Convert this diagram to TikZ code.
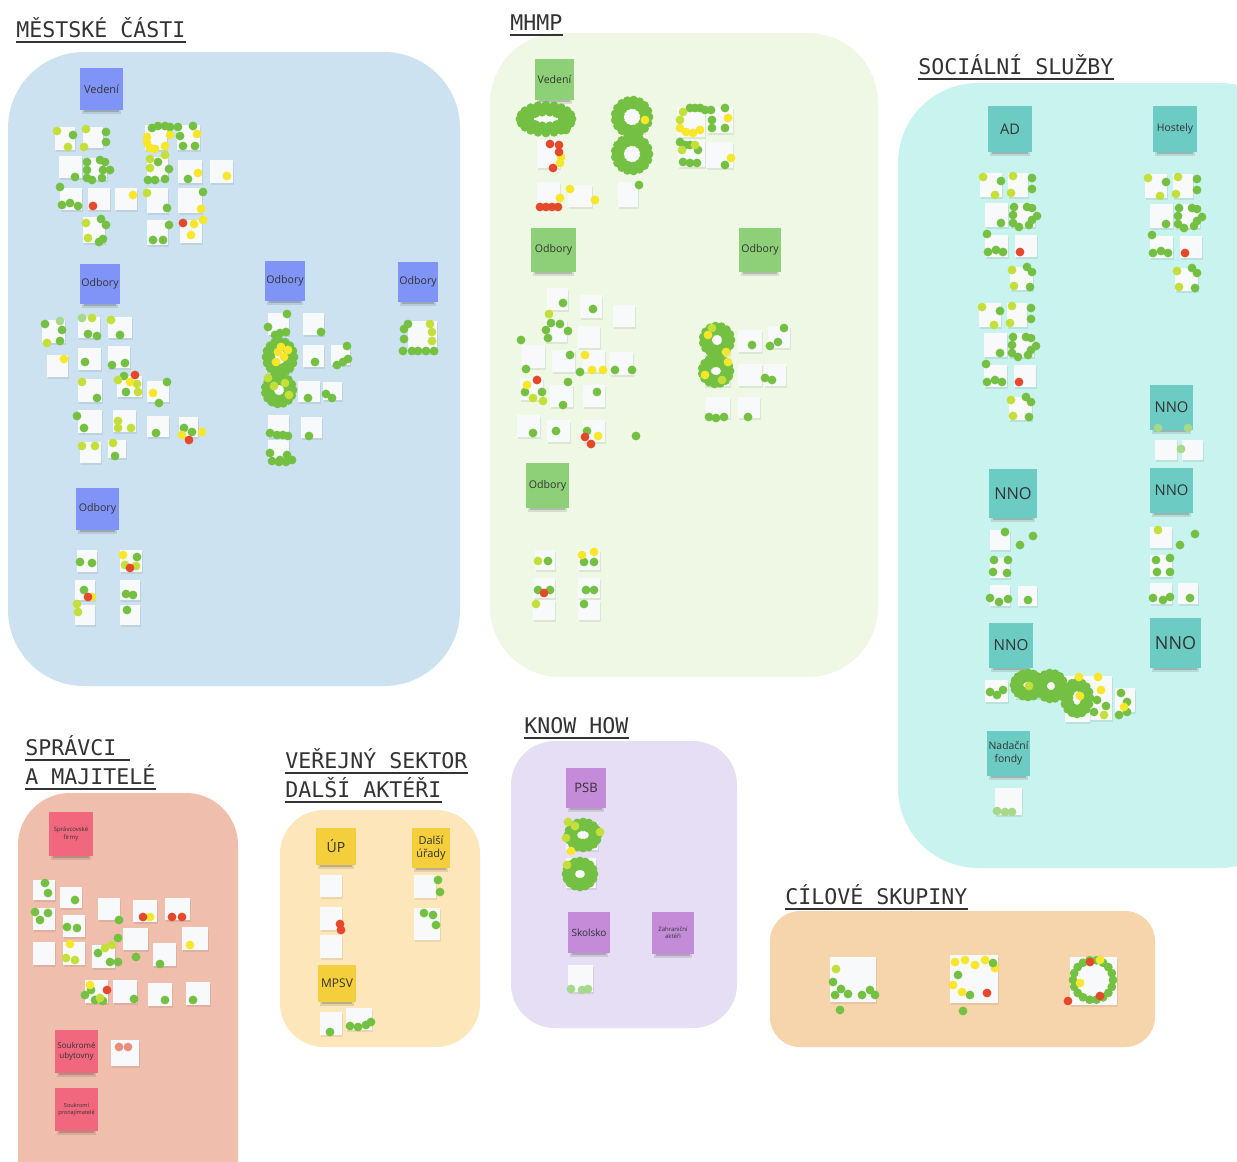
\documentclass[tikz,border=0pt]{standalone}
\usepackage{fontspec}
\setmainfont{Open Sans}
\newfontfamily\titlefont{DejaVu Sans Mono}
\usetikzlibrary{calc}

% board areas
\definecolor{bgblue}{HTML}{CCE2F0}
\definecolor{bggreen}{HTML}{EEF8E4}
\definecolor{bgcyan}{HTML}{C9F3EE}
\definecolor{bgsalmon}{HTML}{F0BEAC}
\definecolor{bgyellow}{HTML}{FDE7BA}
\definecolor{bglav}{HTML}{E6DEF4}
\definecolor{bgpeach}{HTML}{F6D4AC}
% sticky notes
\definecolor{nblue}{HTML}{8094F7}
\definecolor{ngreen}{HTML}{8ED077}
\definecolor{nteal}{HTML}{6CCBC3}
\definecolor{npink}{HTML}{F0677E}
\definecolor{nyellow}{HTML}{F4CE3B}
\definecolor{npurple}{HTML}{C48BD8}
\definecolor{paper}{HTML}{F8F9FA}
% voting dots
\definecolor{dg}{HTML}{74C043}
\definecolor{dl}{HTML}{C5DF3A}
\definecolor{dy}{HTML}{F8E62A}
\definecolor{dr}{HTML}{E5482B}
\definecolor{dpg}{HTML}{A6D98A}
\definecolor{dpr}{HTML}{E9907C}

\tikzset{
  heading/.style={anchor=base west, inner sep=0pt, text=black!80,
    font=\titlefont\fontsize{10.8}{13}\selectfont},
  stick/.style={inner sep=0pt, align=center, text=black!80},
}

% coloured sticky note with its shadow
\newcommand\sticky[8]{%
  \fill[black,opacity=.10] (#2+2,#5-4) rectangle (#4-2,#5+4);
  \fill[black,opacity=.16] (#2+4,#5-2) rectangle (#4-4,#5+2);
  \node[stick, fill=#6, minimum width={(#4-#2)*0.5pt}, minimum height={(#5-#3)*0.5pt}, font=#7]
    (#1) at ({(#2+#4)/2},{(#3+#5)/2}) {#8};}
% white paper notes: x1/y1/x2/y2
\newcommand\papers[1]{\foreach \xa/\ya/\xb/\yb in {#1}{%
  \fill[black,opacity=.07] (\xa+1,\ya+2) rectangle (\xb+1,\yb+2);
  \fill[paper] (\xa,\ya) rectangle (\xb,\yb);}}
% voting dots
\newcommand\pin[2]{\foreach \px/\py in {#2}{\fill[#1] (\px,\py) circle (2.2pt);}}
% ring of dots: cx, cy, rx, ry, count, colour
\newcommand\ring[6]{%
  \pgfmathtruncatemacro\ringn{#5}%
  \foreach \k in {1,...,\ringn}{%
  \fill[#6] ({#1+(#3)*cos(360*\k/\ringn)},{#2+(#4)*sin(360*\k/\ringn)}) circle (2.2pt);}}
% thick ring of dots (two layers)
\newcommand\blob[5]{\ring{#1}{#2}{#3}{#4}{#5}{dg}%
  \ring{#1}{#2}{#3+5}{#4+5}{#5+4}{dg}}
% heading with underline
\newcommand\headline[4]{%
  \node[heading] (#1) at (#2,#3) {#4};
  \draw[black!80, line width=0.9pt] ([yshift=-2.6pt]#1.base west) -- ([yshift=-2.6pt]#1.base east);}

\begin{document}
\begin{tikzpicture}[x=0.5pt,y=-0.5pt]
\useasboundingbox (0,0) rectangle (1237,1162);
\clip (0,0) rectangle (1237,1162);
\fill[white] (0,0) rectangle (1237,1162);

% ---------- areas ----------
\fill[bgblue, rounded corners=38pt] (8,52) rectangle (460,686);
\fill[bggreen, rounded corners=35pt] (490,33) rectangle (878,677);
\fill[bgcyan, rounded corners=40pt] (898,83) rectangle (1300,868);
\fill[bgsalmon, rounded corners=26pt] (18,793) rectangle (238,1220);
\fill[bgyellow, rounded corners=22pt] (280,810) rectangle (480,1047);
\fill[bglav, rounded corners=22pt] (511,741) rectangle (737,1028);
\fill[bgpeach, rounded corners=15pt] (770,911) rectangle (1155,1047);

% ---------- headings ----------
\headline{hMC}{16}{37}{MĚSTSKÉ ČÁSTI}
\headline{hMHMP}{510}{30}{MHMP}
\headline{hSS}{918}{74}{SOCIÁLNÍ SLUŽBY}
\headline{hSM1}{25}{755}{SPRÁVCI\hphantom{X}}
\headline{hSM2}{25}{784}{A MAJITELÉ}
\headline{hVS1}{285}{768}{VEŘEJNÝ SEKTOR}
\headline{hVS2}{285}{797}{DALŠÍ AKTÉŘI}
\headline{hKH}{524}{733}{KNOW HOW}
\headline{hCS}{785}{904}{CÍLOVÉ SKUPINY}

% ---------- Městské části ----------
\sticky{mcVed}{80}{68}{123}{110}{nblue}{\fontsize{5.5}{6.5}\selectfont}{Vedení}
\sticky{mcOd1}{80}{264}{120}{304}{nblue}{\fontsize{5.3}{6.3}\selectfont}{Odbory}
\sticky{mcOd2}{265}{261}{305}{301}{nblue}{\fontsize{5.3}{6.3}\selectfont}{Odbory}
\sticky{mcOd3}{398}{262}{438}{302}{nblue}{\fontsize{5.3}{6.3}\selectfont}{Odbory}
\sticky{mcOd4}{76}{488}{119}{530}{nblue}{\fontsize{5.3}{6.3}\selectfont}{Odbory}

\papers{55/127/75/150, 83/127/103/148, 59/156/82/178, 85/158/107/180, 60/188/82/210,
  88/188/110/210, 115/188/137/210, 83/217/105/243, 145/125/167/150, 177/125/200/150,
  147/157/168/180, 178/160/202/183, 210/160/233/183, 147/188/168/213, 178/188/202/213,
  147/220/168/245, 180/220/202/243}
\pin{dg}{73/135, 106/132, 106/142, 87/162, 87/170, 87/178, 92/180, 100/160, 105/162,
  110/170, 103/170, 102/178, 75/177, 60/187, 62/205, 70/203, 78/206, 101/219, 106/225,
  99/242, 103/239, 152/128, 158/126, 165/126, 170/127, 178/127, 193/126, 180/136, 183/146,
  195/146, 158/162, 169/169, 148/180, 155/180, 165/179, 188/179, 167/208, 203/192, 169/225,
  153/240, 163/240}
\pin{dl}{57/131, 68/147, 86/129, 84/147, 150/159, 165/155, 150/168, 147/193, 86/223, 88/238}
\pin{dy}{147/137, 147/143, 150/148, 155/149, 165/146, 170/135, 197/134, 198/173, 227/176,
  133/195, 201/209, 203/220, 194/224, 191/235}
\pin{dr}{93/206, 183/223}

\papers{42/320/65/343, 78/317/100/338, 108/317/132/338, 47/355/68/377, 78/348/101/370,
  108/346/130/368, 78/379/102/402, 117/376/142/397, 147/381/169/402, 78/410/102/433,
  113/410/136/432, 147/416/169/437, 179/417/198/437, 80/442/101/463, 108/440/126/458}
\pin{dg}{45/324, 62/330, 60/341, 88/334, 97/336, 120/335, 85/362, 112/365, 125/363, 97/398,
  124/376, 126/392, 167/382, 159/403, 77/416, 84/428, 156/433, 184/428, 192/432, 115/456}
\pin{dpg}{60/321, 82/318}
\pin{dl}{47/343, 92/318, 111/320, 82/382, 118/380, 137/384, 138/392, 118/421, 118/428,
  131/428, 82/446, 95/446, 113/443}
\pin{dy}{64/359, 130/382, 153/393, 202/432, 182/435}
\pin{dr}{135/375, 189/440}

\papers{268/313/289/335, 303/313/324/335, 303/345/324/367, 331/345/350/365, 298/381/320/402,
  323/382/342/400, 268/415/289/437, 301/417/322/438, 268/440/289/460, 408/321/437/353,
  266/345/292/372, 266/378/290/402}
\blob{280}{357}{9}{11}{12}
\blob{279}{390}{9}{9}{11}
\pin{dy}{278/352, 284/357, 276/362, 288/350, 281/347}
\pin{dl}{285/383, 274/386, 289/395, 268/378}
\pin{dg}{287/314, 268/327, 275/335, 280/333, 286/332, 321/332, 315/362, 347/346, 337/365,
  343/362, 348/359, 308/398, 326/394, 332/398, 270/433, 277/435, 283/435, 288/436, 309/436,
  270/453, 272/461, 280/460, 287/455, 292/460, 279/462, 286/462, 408/324, 404/329, 404/339,
  403/351, 412/351, 418/351, 426/351, 434/351}
\pin{dl}{430/324, 432/332, 432/341}

\papers{77/550/97/572, 120/550/142/572, 75/580/95/600, 120/580/140/600, 75/605/95/625,
  120/605/140/625}
\pin{dg}{80/562, 92/563, 137/557, 84/590, 126/594, 133/595, 127/610}
\pin{dl}{125/565, 136/566, 77/604, 78/612}
\pin{dy}{123/555, 92/597}
\pin{dr}{130/568, 88/597}

% ---------- MHMP ----------
\sticky{mhVed}{535}{59}{574}{100}{ngreen}{\fontsize{5.3}{6.3}\selectfont}{Vedení}
\sticky{mhOd1}{531}{228}{576}{272}{ngreen}{\fontsize{5.3}{6.3}\selectfont}{Odbory}
\sticky{mhOd2}{739}{228}{781}{272}{ngreen}{\fontsize{5.3}{6.3}\selectfont}{Odbory}
\sticky{mhOd3}{526}{463}{569}{508}{ngreen}{\fontsize{5.3}{6.3}\selectfont}{Odbory}

\papers{533/108/560/132, 537/140/560/168, 537/182/560/207, 568/185/592/207,
  620/103/645/133, 620/140/645/168, 618/182/638/207,
  677/107/705/137, 707/107/733/133, 678/140/705/167, 706/142/733/168}
\ring{546}{119}{17}{7}{14}{dg}
\ring{546}{119}{22}{11}{17}{dg}
\ring{546}{119}{26}{14}{20}{dg}
\blob{632}{117}{12}{12}{13}
\blob{632}{154}{12}{12}{13}
\pin{dg}{566/130, 639/185, 690/108, 695/108, 700/108, 705/110, 711/110, 725/108, 712/120,
  712/128, 725/128, 680/142, 685/145, 690/145, 698/150, 683/162, 690/163, 697/163, 725/165}
\pin{dy}{645/120, 561/157, 560/163, 570/189, 560/198, 595/200, 700/130, 728/118, 731/158,
  680/128, 686/132, 693/133}
\pin{dl}{680/120, 683/112, 682/150, 695/145}
\pin{dr}{550/144, 559/145, 559/152, 553/168, 540/207, 546/207, 552/207, 558/207}

\papers{547/288/568/310, 580/295/602/318, 613/305/635/327, 545/320/567/342, 578/326/600/348,
  522/345/545/368, 552/350/575/372, 583/350/605/372, 610/352/633/375, 520/378/543/400,
  550/385/573/407, 583/385/605/407, 517/415/540/437, 547/420/570/442, 583/420/605/442}
\pin{dg}{563/303, 593/309, 551/323, 560/324, 546/330, 548/338, 568/331, 521/340, 526/369,
  570/355, 580/372, 615/370, 632/370, 525/392, 542/392, 568/382, 563/405, 597/392, 636/436,
  533/433, 556/431, 587/431}
\pin{dy}{585/355, 592/370, 598/436, 603/370, 527/385}
\pin{dl}{549/314, 533/398, 543/401}
\pin{dr}{537/380, 591/444, 585/437}

\papers{704/326/730/355, 704/358/730/386, 738/330/762/352, 768/326/790/348, 738/364/762/386,
  764/364/786/386, 706/397/730/418, 738/397/760/418}
\blob{717}{340}{9}{9}{11}
\blob{716}{371}{9}{8}{11}
\pin{dy}{708/335, 726/352, 705/375, 728/362}
\pin{dl}{712/328, 722/380}
\pin{dg}{784/328, 778/342, 770/346, 752/345, 765/378, 772/380, 709/417, 716/418, 724/417,
  748/417}

\papers{535/550/555/570, 578/550/600/570, 533/578/555/598, 578/578/600/598, 533/600/555/620,
  578/600/600/620}
\pin{dg}{548/561, 584/562, 594/562, 538/590, 550/590, 586/590, 594/590, 584/604}
\pin{dl}{538/561, 536/604}
\pin{dy}{582/555, 594/552}
\pin{dr}{544/593}

% ---------- Sociální služby ----------
\sticky{ssAD}{988}{106}{1032}{152}{nteal}{\fontsize{7.3}{8.5}\selectfont}{AD}
\sticky{ssHost}{1153}{106}{1197}{152}{nteal}{\fontsize{5.2}{6.2}\selectfont}{Hostely}
\sticky{ssNNOa}{1150}{385}{1193}{430}{nteal}{\fontsize{7.4}{8.5}\selectfont}{NNO}
\sticky{ssNNOb}{989}{469}{1037}{518}{nteal}{\fontsize{8.2}{9.5}\selectfont}{NNO}
\sticky{ssNNOc}{1150}{468}{1193}{513}{nteal}{\fontsize{7.4}{8.5}\selectfont}{NNO}
\sticky{ssNNOd}{989}{623}{1033}{668}{nteal}{\fontsize{7.6}{8.5}\selectfont}{NNO}
\sticky{ssNNOe}{1150}{618}{1201}{668}{nteal}{\fontsize{9}{10}\selectfont}{NNO}
\sticky{ssNF}{987}{731}{1030}{776}{nteal}{\fontsize{5.2}{6.6}\selectfont}{Nadační\\fondy}

\foreach \gx/\gy in {0/0, -1/130, 165/1}{
\begin{scope}[shift={(\gx,\gy)}]
\papers{980/173/1002/197, 1008/173/1028/197, 985/203/1008/227, 1010/203/1035/227,
  985/235/1008/257, 1015/235/1037/257, 1010/267/1033/290}
\pin{dl}{983/177, 995/195, 1013/176, 1011/193, 1012/270, 1014/286}
\pin{dg}{1001/181, 1032/178, 1032/189, 1014/207, 1013/215, 1013/223, 1019/227, 1027/207,
  1032/208, 1037/216, 1032/220, 1029/225, 1001/223, 987/234, 988/252, 996/250, 1003/252,
  1027/267, 1032/272, 1030/287}
\pin{dr}{1020/252}
\end{scope}}

\papers{1155/440/1177/460, 1182/440/1203/460}
\pin{dpg}{1181/449, 1158/428, 1188/428}

\papers{990/530/1010/550, 990/558/1010/578, 990/585/1010/606, 1018/586/1037/606}
\pin{dg}{1005/532, 1020/545, 1033/536, 994/560, 1008/560, 993/572, 1007/573, 990/598,
  999/602, 1008/599, 1028/600}
\papers{1150/527/1172/548, 1150/555/1172/577, 1150/583/1172/604, 1178/583/1198/604}
\pin{dl}{1158/530}
\pin{dg}{1180/545, 1195/534, 1156/560, 1170/558, 1157/572, 1170/572, 1153/598, 1163/600,
  1170/597, 1190/598}

\papers{985/680/1008/702, 1015/672/1040/698, 1040/672/1062/698, 1065/676/1090/702,
  1090/676/1112/700, 1090/700/1112/720, 1115/688/1135/712, 1065/702/1090/722}
\blob{1028}{685}{9}{7}{12}
\blob{1051}{686}{8}{8}{11}
\blob{1077}{698}{8}{11}{12}
\pin{dg}{990/692, 997/695, 1003/690, 1097/700, 1106/706, 1094/712, 1121/693, 1127/702,
  1127/712, 1119/715}
\pin{dy}{1079/677, 1098/677, 1080/696, 1124/707, 1101/690}
\pin{dl}{1104/715, 1029/686}
\papers{995/788/1022/815}
\pin{dpg}{997/811, 1005/812, 1012/812}

% ---------- Správci a majitelé ----------
\sticky{smSF}{49}{812}{93}{856}{npink}{\fontsize{3}{3.6}\selectfont}{Správcovské\\firmy}
\sticky{smSU}{55}{1030}{98}{1073}{npink}{\fontsize{4}{4.8}\selectfont}{Soukromé\\ubytovny}
\sticky{smSP}{55}{1088}{98}{1131}{npink}{\fontsize{2.8}{3.4}\selectfont}{Soukromí\\pronajímatelé}

\papers{33/880/55/900, 60/887/82/908, 98/898/120/920, 133/900/157/922, 165/898/190/920,
  33/908/55/930, 63/915/85/937, 123/928/148/950, 182/927/208/950, 33/942/55/965,
  63/942/85/965, 92/945/115/968, 153/943/176/966, 85/980/108/1003, 113/980/137/1003,
  148/983/172/1006, 186/982/210/1005, 111/1040/139/1066}
\pin{dg}{45/883, 48/893, 75/900, 35/912, 40/920, 48/913, 67/927, 77/928, 98/953, 118/938,
  110/962, 118/962, 136/957, 160/964, 119/920, 91/990, 85/995, 95/1000, 103/1001, 134/999,
  165/1000, 193/1000}
\pin{dy}{70/944, 190/945, 150/917, 90/985}
\pin{dl}{66/958, 75/960, 105/948, 112/945, 100/998}
\pin{dr}{143/917, 172/917, 182/917, 107/990}
\pin{dpr}{119/1047, 128/1047}

% ---------- Veřejný sektor, další aktéři ----------
\sticky{vsUP}{316}{828}{356}{865}{nyellow}{\fontsize{7}{8}\selectfont}{ÚP}
\sticky{vsDU}{412}{828}{450}{868}{nyellow}{\fontsize{5.5}{6.8}\selectfont}{Další\\úřady}
\sticky{vsMP}{318}{965}{356}{1002}{nyellow}{\fontsize{6}{7}\selectfont}{MPSV}

\papers{320/875/342/897, 320/907/342/930, 320/935/342/958, 414/875/436/898, 414/908/440/940,
  320/1012/342/1035, 346/1008/372/1030}
\pin{dr}{340/924, 341/930}
\pin{dg}{438/880, 440/892, 424/913, 433/915, 436/925, 330/1032, 350/1026, 358/1027,
  366/1025, 371/1022}

% ---------- Know how ----------
\sticky{khPSB}{566}{768}{606}{808}{npurple}{\fontsize{6.5}{7.5}\selectfont}{PSB}
\sticky{khSK}{568}{912}{610}{953}{npurple}{\fontsize{5}{6}\selectfont}{Skolsko}
\sticky{khZA}{652}{912}{694}{954}{npurple}{\fontsize{3}{3.6}\selectfont}{Zahraniční\\aktéři}

\papers{566/822/598/850, 566/858/596/888, 568/965/593/992}
\blob{583}{835}{10}{8}{12}
\blob{580}{874}{9}{8}{12}
\pin{dl}{568/822, 575/826, 566/838, 600/832, 567/865}
\pin{dy}{571/851}
\pin{dpg}{571/989, 582/990, 588/989}

% ---------- Cílové skupiny ----------
\papers{830/957/876/1002, 950/955/998/1003, 1070/957/1117/1005}
\pin{dg}{835/995, 841/989, 848/994, 862/995, 870/990, 875/995, 840/1010, 833/982}
\pin{dl}{836/969}
\pin{dy}{955/962, 965/960, 975/965, 985/960, 995/968, 953/985, 962/992}
\pin{dg}{958/975, 993/963, 970/995, 963/1011}
\pin{dr}{987/993}
\ring{1093}{980}{20}{20}{18}{dg}
\pin{dr}{1068/1001, 1100/996, 1090/962}
\pin{dy}{1100/960, 1080/983}
\end{tikzpicture}
\end{document}
